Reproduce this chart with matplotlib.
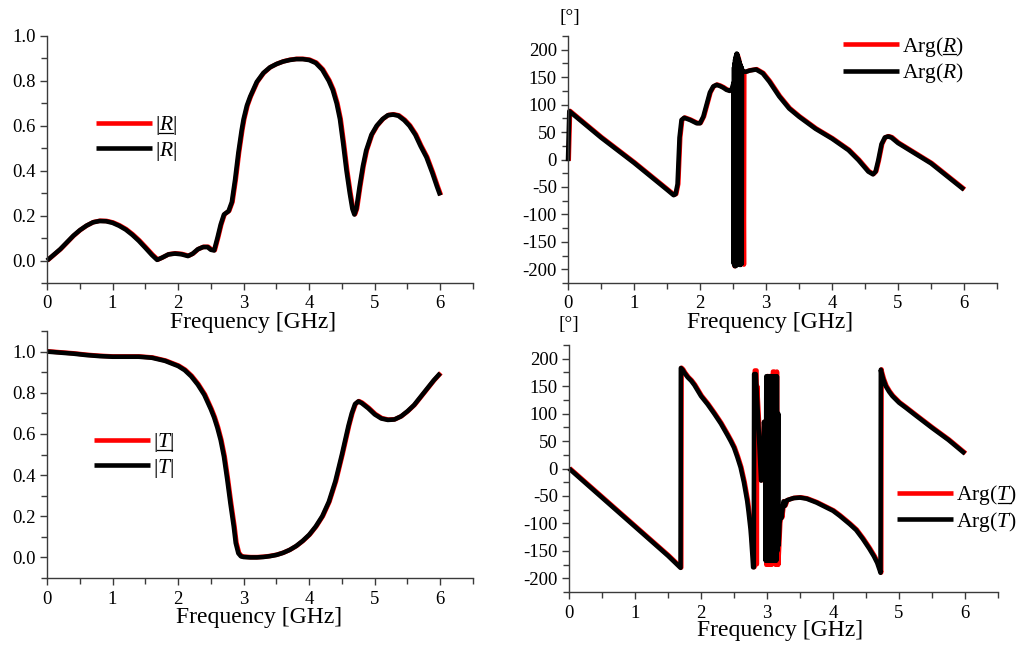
import matplotlib
matplotlib.use("Agg")
import matplotlib.pyplot as plt
import matplotlib.transforms as mtransforms
from matplotlib.lines import Line2D
from matplotlib.ticker import MultipleLocator, FormatStrFormatter

plt.rcParams['font.family'] = ['Liberation Serif', 'DejaVu Serif']
plt.rcParams['mathtext.fontset'] = 'custom'
plt.rcParams['mathtext.rm'] = 'Liberation Serif'
plt.rcParams['mathtext.it'] = 'Liberation Serif:italic'
plt.rcParams['axes.unicode_minus'] = False

# ---------------- data ----------------
freq_R = [0, 0.1, 0.2, 0.3, 0.4, 0.5, 0.6, 0.7, 0.8, 0.9, 1.0, 1.1, 1.2, 1.3, 1.4, 1.5, 1.6,
          1.68, 1.75, 1.85, 1.95, 2.05, 2.15, 2.22, 2.3, 2.38, 2.45, 2.5, 2.55, 2.6, 2.65,
          2.7, 2.77, 2.82, 2.87, 2.92, 2.97, 3.0, 3.05, 3.1, 3.2, 3.3, 3.4, 3.5, 3.6, 3.7,
          3.8, 3.9, 4.0, 4.1, 4.2, 4.3, 4.36, 4.42, 4.47, 4.52, 4.57, 4.62, 4.66, 4.69,
          4.72, 4.77, 4.82, 4.87, 4.95, 5.03, 5.12, 5.2, 5.28, 5.36, 5.45, 5.53, 5.62,
          5.7, 5.79, 5.88, 5.95, 6.0]
abs_R = [0.0, 0.025, 0.05, 0.08, 0.11, 0.135, 0.155, 0.17, 0.176, 0.175, 0.168, 0.155,
         0.138, 0.115, 0.088, 0.057, 0.025, 0.003, 0.012, 0.027, 0.031, 0.028, 0.02, 0.03,
         0.05, 0.06, 0.06, 0.048, 0.045, 0.1, 0.16, 0.205, 0.22, 0.26, 0.36, 0.48, 0.58,
         0.63, 0.69, 0.73, 0.795, 0.835, 0.86, 0.875, 0.886, 0.893, 0.897, 0.897, 0.893,
         0.88, 0.85, 0.80, 0.76, 0.70, 0.63, 0.52, 0.40, 0.30, 0.23, 0.205, 0.23, 0.33,
         0.42, 0.49, 0.56, 0.60, 0.63, 0.647, 0.65, 0.645, 0.625, 0.60, 0.56, 0.51, 0.46,
         0.39, 0.33, 0.29]

freq_T = [0, 0.2, 0.4, 0.6, 0.8, 1.0, 1.2, 1.4, 1.6, 1.8, 2.0, 2.1, 2.2, 2.3, 2.4, 2.5,
          2.55, 2.6, 2.65, 2.7, 2.75, 2.8, 2.85, 2.88, 2.92, 2.96, 3.0, 3.1, 3.2, 3.3, 3.4,
          3.5, 3.6, 3.7, 3.8, 3.9, 4.0, 4.1, 4.2, 4.3, 4.4, 4.5, 4.6, 4.65, 4.7, 4.75, 4.8,
          4.9, 5.0, 5.1, 5.2, 5.3, 5.4, 5.5, 5.6, 5.7, 5.8, 5.9, 6.0]
abs_T = [1.0, 0.995, 0.99, 0.983, 0.978, 0.975, 0.975, 0.975, 0.97, 0.955, 0.93, 0.91,
         0.88, 0.84, 0.79, 0.72, 0.68, 0.63, 0.57, 0.49, 0.38, 0.26, 0.15, 0.07, 0.02,
         0.005, 0.002, 0.0, 0.0, 0.002, 0.006, 0.012, 0.022, 0.036, 0.055, 0.08, 0.11,
         0.15, 0.20, 0.27, 0.37, 0.50, 0.64, 0.70, 0.745, 0.758, 0.75, 0.725, 0.695,
         0.675, 0.668, 0.67, 0.685, 0.71, 0.74, 0.78, 0.82, 0.86, 0.895]

# Arg(R) in degrees: smooth part before the resonance, resonance burst, part after
argR_freq_pre = [0, 0.02, 0.5, 1.0, 1.5, 1.6, 1.63, 1.66, 1.69, 1.72, 1.76, 1.85, 1.95,
                 2.0, 2.05, 2.1, 2.15, 2.2, 2.25, 2.3, 2.35, 2.4, 2.45, 2.48, 2.51]
argR_pre = [-3, 88, 40, -6, -55, -65, -63, -45, 40, 72, 76, 72, 66, 66, 78, 100, 122,
            133, 136, 134, 131, 127, 125, 128, 140]
argR_freq_burst_black = [2.512, 2.516, 2.52, 2.524, 2.528, 2.532, 2.536, 2.54, 2.544,
                         2.548, 2.552, 2.556, 2.56, 2.564, 2.568, 2.572, 2.576, 2.58,
                         2.584, 2.588, 2.592, 2.596, 2.6, 2.604, 2.608, 2.612, 2.616,
                         2.62, 2.624, 2.628, 2.632, 2.636, 2.64]
argR_burst_black = [-190, 168, -192, 175, -194, 182, -194, 186, -194, 190, -192, 193,
                    -190, 192, -186, 188, -182, 185, -186, 182, -190, 178, -192, 175,
                    -192, 172, -192, 170, -190, 168, -190, 165, 160]
argR_freq_burst_red = [2.515, 2.52, 2.525, 2.53, 2.54, 2.55, 2.56, 2.57, 2.58, 2.59,
                       2.6, 2.61, 2.62, 2.63, 2.64, 2.655, 2.66]
argR_burst_red = [-195, 170, -194, 180, 185, 188, 190, 186, 182, 176, 172, 168, 165, 162,
                  160, -192, 158]
argR_freq_post = [2.7, 2.75, 2.85, 2.95, 3.05, 3.2, 3.35, 3.5, 3.75, 4.0, 4.25, 4.4,
                  4.55, 4.62, 4.66, 4.7, 4.75, 4.8, 4.85, 4.9, 5.0, 5.5, 6.0]
argR_post = [160, 162, 164, 157, 142, 115, 93, 78, 56, 38, 17, -1, -22, -27, -22, -2,
             28, 40, 42, 40, 30, -7, -55]

# Arg(T) in degrees
argT_freq_pre = [0, 0.5, 1.0, 1.5, 1.69, 1.695, 1.72, 1.75, 1.8, 1.85, 1.9, 2.0, 2.1,
                 2.2, 2.3, 2.4, 2.45, 2.5, 2.55, 2.6, 2.65, 2.7, 2.72, 2.75, 2.76, 2.78]
argT_pre = [0, -53, -106, -159, -181, 183, 180, 174, 166, 160, 152, 132, 117, 100, 82,
            61, 50, 38, 21, 2, -25, -59, -78, -110, -125, -160]
argT_freq_burst_black = [2.79, 2.80, 2.805, 2.83, 2.87, 2.91, 2.93, 2.955, 2.97, 2.98,
                         2.99, 3.00, 3.01, 3.02, 3.03, 3.04, 3.05, 3.06, 3.07, 3.08, 3.09,
                         3.10, 3.11, 3.12, 3.13, 3.14, 3.15, 3.16, 3.17, 3.175, 3.19,
                         3.21, 3.22, 3.25, 3.27, 3.3]
argT_burst_black = [-180, -180, 172, 172, 80, -22, -15, 85, 60, -168, 168, -168, 168,
                    -168, 168, -168, 168, -168, 168, -168, 168, -168, 168, -168, 168,
                    -168, 168, -150, 100, -140, -100, -80, -90, -60, -68, -58]
argT_freq_burst_red = [2.79, 2.80, 2.805, 2.83, 2.835, 2.84, 2.87, 2.91, 2.93, 2.955,
                       2.97, 2.98, 3.0, 3.02, 3.04, 3.06, 3.08, 3.1, 3.12, 3.14, 3.16,
                       3.175, 3.19, 3.21, 3.22, 3.25, 3.27, 3.3]
argT_burst_red = [-180, -180, 178, 178, -175, 150, 80, -22, -15, 85, 60, -176, 168,
                  -176, 168, -176, 176, 176, -176, 176, -176, -140, -100, -80, -90, -60,
                  -68, -58]
argT_freq_post = [3.4, 3.5, 3.6, 3.75, 3.9, 4.0, 4.1, 4.25, 4.35, 4.45, 4.55, 4.62, 4.67,
                  4.71, 4.72, 4.725, 4.73, 4.76, 4.8, 4.85, 4.9, 5.0, 5.1, 5.25, 5.5,
                  5.75, 6.0]
argT_post = [-54, -53, -55, -62, -71, -77, -86, -101, -112, -128, -146, -160, -172, -186,
             -190, 180, 176, 163, 150, 140, 132, 120, 111, 97, 74, 52, 27]

labels_R = [r'$|R|$', r'$|R|$']
labels_argR = [r'Arg($R$)', r'Arg($R$)']
labels_T = [r'$|T|$', r'$|T|$']
labels_argT = [r'Arg($T$)', r'Arg($T$)']
xlabel = 'Frequency [GHz]'
deg_label = '[°]'

# ---------------- figure ----------------
W, H = 1023, 646
fig = plt.figure(figsize=(W / 100, H / 100), dpi=100)

def px_axes(x0, y0, x1, y1):
    return fig.add_axes([x0 / W, 1 - y1 / H, (x1 - x0) / W, (y1 - y0) / H])

ax_R = px_axes(47, 36, 473, 283)
ax_aR = px_axes(568, 36, 997, 283)
ax_T = px_axes(47, 331, 473, 578)
ax_aT = px_axes(569, 345, 998, 592)

LW = 3.3
red_shift = mtransforms.ScaledTranslation(0.7 / 100, 0.3 / 100, fig.dpi_scale_trans)

def style(ax, ylo, yhi, ymaj, ymin, fmt):
    ax.set_xlim(0, 6.5)
    ax.set_ylim(ylo, yhi)
    for s in ('top', 'right'):
        ax.spines[s].set_visible(False)
    for s in ('left', 'bottom'):
        ax.spines[s].set_color('#3a3a3a')
        ax.spines[s].set_linewidth(1.0)
    ax.xaxis.set_major_locator(MultipleLocator(1))
    ax.xaxis.set_minor_locator(MultipleLocator(0.5))
    ax.yaxis.set_major_locator(MultipleLocator(ymaj))
    ax.yaxis.set_minor_locator(MultipleLocator(ymin))
    ax.yaxis.set_major_formatter(FormatStrFormatter(fmt))
    ax.tick_params(which='major', direction='out', length=5, width=1, color='#3a3a3a',
                   labelsize=13.5, pad=3)
    ax.tick_params(which='minor', direction='out', length=4, width=1, color='#3a3a3a')
    ax.tick_params(axis='x', which='major', pad=4)
    ax.patch.set_alpha(0)

def draw(ax, fr, vr, fb, vb, labels, anchor):
    lr, = ax.plot(fr, vr, color='#ff0000', lw=LW, solid_joinstyle='round',
                  solid_capstyle='butt', label=labels[0], clip_on=False)
    lr.set_transform(ax.transData + red_shift)
    ax.plot(fb, vb, color='black', lw=LW, solid_joinstyle='round',
            solid_capstyle='butt', label=labels[1], clip_on=False)
    return ax.legend(loc='upper left', bbox_to_anchor=anchor, frameon=False,
                     fontsize=15.5, handlelength=2.6, handletextpad=0.15,
                     labelspacing=0.12, borderpad=0, borderaxespad=0)

def add_xlabel(ax, xfrac, yfrac):
    ax.text(xfrac, yfrac, xlabel, transform=ax.transAxes, ha='center', va='center',
            fontsize=17)

# |R|
style(ax_R, -0.1, 1.0, 0.2, 0.1, '%.1f')
leg_R = draw(ax_R, freq_R, abs_R, freq_R, abs_R, labels_R, (0.115, 0.684))
add_xlabel(ax_R, 0.484, -0.158)

# Arg(R)
style(ax_aR, -225, 225, 50, 25, '%d')
leg_aR = draw(ax_aR,
              argR_freq_pre + argR_freq_burst_red + argR_freq_post,
              argR_pre + argR_burst_red + argR_post,
              argR_freq_pre + argR_freq_burst_black + argR_freq_post,
              argR_pre + argR_burst_black + argR_post,
              labels_argR, (0.64, 1.006))
add_xlabel(ax_aR, 0.47, -0.158)
ax_aR.text(0.005, 1.075, deg_label, transform=ax_aR.transAxes, ha='center',
           va='center', fontsize=14)

# |T|
style(ax_T, -0.1, 1.1, 0.2, 0.1, '%.1f')
leg_T = draw(ax_T, freq_T, abs_T, freq_T, abs_T, labels_T, (0.11, 0.595))
add_xlabel(ax_T, 0.498, -0.158)

# Arg(T)
style(ax_aT, -225, 225, 50, 25, '%d')
leg_aT = draw(ax_aT,
              argT_freq_pre + argT_freq_burst_red + argT_freq_post,
              argT_pre + argT_burst_red + argT_post,
              argT_freq_pre + argT_freq_burst_black + argT_freq_post,
              argT_pre + argT_burst_black + argT_post,
              labels_argT, (0.765, 0.44))
add_xlabel(ax_aT, 0.493, -0.154)
ax_aT.text(0.0, 1.085, deg_label, transform=ax_aT.transAxes, ha='center',
           va='center', fontsize=14)

# underline the symbol of the complex quantity in the first legend entry
fig.canvas.draw()
renderer = fig.canvas.get_renderer()

def underline(legend, prefix, sym):
    t = legend.get_texts()[0]
    prop = t.get_fontproperties()
    bb = t.get_window_extent(renderer)
    _, _, d = renderer.get_text_width_height_descent(t.get_text(), prop, ismath=True)
    w0 = renderer.get_text_width_height_descent(prefix, prop, ismath=True)[0]
    w1 = renderer.get_text_width_height_descent(prefix + sym, prop, ismath=True)[0]
    y = bb.y0 + d - 2.5
    x0 = bb.x0 + w0 - 0.5
    x1 = bb.x0 + w1 - 1.0
    fig.add_artist(Line2D([x0 / W, x1 / W], [y / H, y / H], transform=fig.transFigure,
                          color='black', lw=0.9))

underline(leg_R, r'$|$', r'$R$')
underline(leg_aR, 'Arg(', r'$R$')
underline(leg_T, r'$|$', r'$T$')
underline(leg_aT, 'Arg(', r'$T$')

fig.savefig('out.png', dpi=100)
